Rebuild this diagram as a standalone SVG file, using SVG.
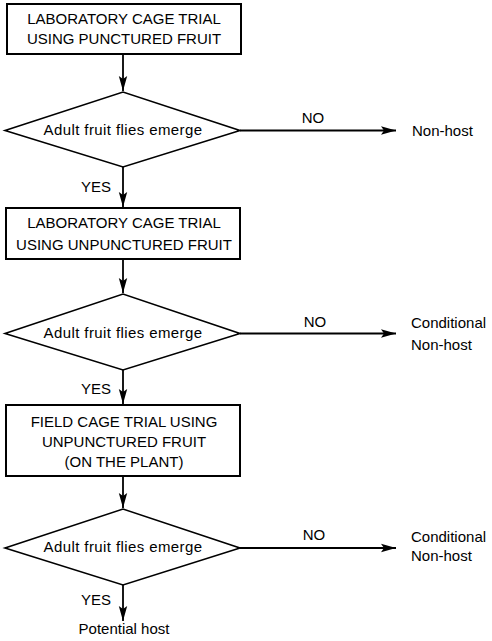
<svg xmlns="http://www.w3.org/2000/svg" width="492" height="641" viewBox="0 0 492 641">
<defs>
<style>
.box{fill:#fff;stroke:#000;stroke-width:2}
.dia{fill:#fff;stroke:#000;stroke-width:1.6}
.ln{fill:none;stroke:#000;stroke-width:1.8}
text{font-family:"Liberation Sans",Arial,sans-serif;font-size:15px;fill:#000}
.c{text-anchor:middle}
.d{letter-spacing:0.4px}
</style>
<marker id="ah" markerUnits="userSpaceOnUse" markerWidth="16" markerHeight="10" refX="15" refY="5" orient="auto">
<path d="M0,0.8 L15,5 L0,9.2 L3,5 z" fill="#000"/>
</marker>
</defs>
<rect width="492" height="641" fill="#fff"/>
<g id="connectors">
<line class="ln" x1="123" y1="54" x2="123" y2="91" marker-end="url(#ah)"/>
<line class="ln" x1="123" y1="167" x2="123" y2="207" marker-end="url(#ah)"/>
<line class="ln" x1="123" y1="259" x2="123" y2="293" marker-end="url(#ah)"/>
<line class="ln" x1="123" y1="370" x2="123" y2="404" marker-end="url(#ah)"/>
<line class="ln" x1="123" y1="476" x2="123" y2="508" marker-end="url(#ah)"/>
<line class="ln" x1="123" y1="585" x2="123" y2="621" marker-end="url(#ah)"/>
<line class="ln" x1="240" y1="130.5" x2="396" y2="130.5" marker-end="url(#ah)"/>
<line class="ln" x1="240" y1="333.5" x2="396" y2="333.5" marker-end="url(#ah)"/>
<line class="ln" x1="240" y1="548" x2="396" y2="548" marker-end="url(#ah)"/>
<text x="313" y="123" class="c">NO</text>
<text x="315" y="327" class="c">NO</text>
<text x="314" y="540" class="c">NO</text>
<text x="96" y="192" class="c">YES</text>
<text x="96" y="394" class="c">YES</text>
<text x="96" y="605" class="c">YES</text>
</g>
<g id="box1">
<rect class="box" x="7" y="4" width="234" height="50"/>
<text x="124" y="24" class="c">LABORATORY CAGE TRIAL</text>
<text x="124" y="44" class="c">USING PUNCTURED FRUIT</text>
</g>
<g id="decision1">
<polygon class="dia" points="5,130.5 123,92 240,130.5 123,167"/>
<text x="123" y="135" class="c d">Adult fruit flies emerge</text>
</g>
<g id="nonhost1">
<text x="412" y="136">Non-host</text>
</g>
<g id="box2">
<rect class="box" x="6" y="208" width="234" height="51"/>
<text x="124" y="228" class="c">LABORATORY CAGE TRIAL</text>
<text x="124" y="250" class="c">USING UNPUNCTURED FRUIT</text>
</g>
<g id="decision2">
<polygon class="dia" points="5,333.5 123,294 240,333.5 123,370"/>
<text x="123" y="338" class="c d">Adult fruit flies emerge</text>
</g>
<g id="nonhost2">
<text x="411" y="328">Conditional</text>
<text x="411" y="350">Non-host</text>
</g>
<g id="box3">
<rect class="box" x="6" y="405" width="234" height="71"/>
<text x="124" y="427" class="c">FIELD CAGE TRIAL USING</text>
<text x="124" y="447" class="c">UNPUNCTURED FRUIT</text>
<text x="124" y="467" class="c">(ON THE PLANT)</text>
</g>
<g id="decision3">
<polygon class="dia" points="5,548 123,509 240,548 123,585"/>
<text x="123" y="552" class="c d">Adult fruit flies emerge</text>
</g>
<g id="nonhost3">
<text x="411" y="542">Conditional</text>
<text x="411" y="561">Non-host</text>
</g>
<g id="potential">
<text x="124" y="634" class="c">Potential host</text>
</g>
</svg>
